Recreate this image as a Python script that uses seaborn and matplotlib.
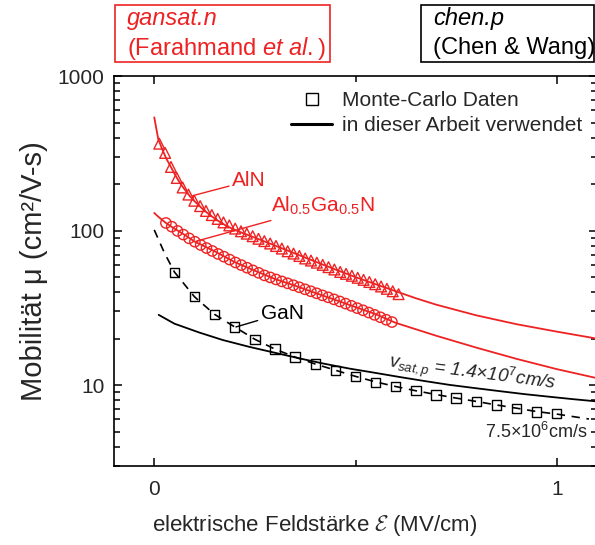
import numpy as np
import pandas as pd
import matplotlib
matplotlib.use("Agg")
import matplotlib.pyplot as plt
from matplotlib.patches import Rectangle
from matplotlib.lines import Line2D
from matplotlib.ticker import FixedLocator, NullFormatter, LogLocator
import seaborn as sns

# ---------------- data (field in MV/cm, mobility in cm^2/Vs) ----------------
# AlN Monte-Carlo points (triangles)
aln_E = [0.0125, 0.027, 0.0415, 0.056, 0.0705, 0.085, 0.0995, 0.114, 0.1285, 0.143,
         0.1575, 0.172, 0.1865, 0.201, 0.2155, 0.230, 0.2445, 0.259, 0.2735, 0.288,
         0.3025, 0.317, 0.3315, 0.346, 0.3605, 0.375, 0.3895, 0.404, 0.4185, 0.433,
         0.4475, 0.462, 0.4765, 0.491, 0.5055, 0.520, 0.5345, 0.549, 0.5635, 0.578,
         0.5925, 0.607]
aln_mu = [365, 318, 258, 219, 190, 171, 156, 144, 134, 126,
          119, 113, 108, 103, 99, 95.5, 92, 88.5, 85.5, 82.5,
          79.5, 76.5, 73.5, 71, 68.5, 66, 64, 62, 60, 58,
          56, 54, 52.5, 51, 49.5, 48, 46.5, 45, 43.5, 42,
          40.5, 38.8]

# AlN model curve (gansat.n)
aln_fit_E = [0.0, 0.01, 0.02, 0.03, 0.04, 0.05, 0.06, 0.07, 0.08, 0.09, 0.10, 0.12,
             0.14, 0.16, 0.18, 0.20, 0.25, 0.30, 0.35, 0.40, 0.45, 0.50, 0.55, 0.60,
             0.65, 0.70, 0.80, 0.90, 1.00, 1.10]
aln_fit_mu = [540, 390, 335, 292, 262, 234, 211, 193, 178, 165, 155, 138,
              125, 115, 107, 101, 90, 80, 71, 63, 56, 50, 45, 40.5,
              36.5, 33.2, 28.3, 24.8, 22.2, 20.0]

# Al0.5Ga0.5N Monte-Carlo points (circles)
algan_E = [0.029, 0.0434, 0.0578, 0.0722, 0.0866, 0.101, 0.1154, 0.1298, 0.1442, 0.1586,
           0.173, 0.1874, 0.2018, 0.2162, 0.2306, 0.245, 0.2594, 0.2738, 0.2882, 0.3026,
           0.317, 0.3314, 0.3458, 0.3602, 0.3746, 0.389, 0.4034, 0.4178, 0.4322, 0.4466,
           0.461, 0.4754, 0.4898, 0.5042, 0.5186, 0.533, 0.5474, 0.5618, 0.5762, 0.5906]
algan_mu = [112, 106, 99.5, 94.2, 89.1, 84.7, 80.7, 77.1, 73.8, 70.6,
            67.8, 64.9, 62.2, 59.8, 57.5, 55.3, 53.3, 51.3, 49.8, 48.3,
            46.9, 45.6, 44.3, 43.0, 41.7, 40.5, 39.3, 38.1, 37.0, 35.9,
            34.8, 33.7, 32.6, 31.5, 30.5, 29.5, 28.5, 27.5, 26.5, 25.6]

# Al0.5Ga0.5N model curve (gansat.n)
algan_fit_E = [0.0, 0.01, 0.02, 0.03, 0.05, 0.075, 0.10, 0.15, 0.20, 0.25, 0.30, 0.35,
               0.40, 0.45, 0.50, 0.55, 0.60, 0.70, 0.80, 0.90, 1.00, 1.10]
algan_fit_mu = [130, 123, 117, 111.5, 103, 94, 85, 73.5, 62.5, 55, 48.6, 44,
                39.5, 35.6, 32.0, 28.8, 25.3, 20.9, 17.5, 14.8, 12.7, 11.1]

# GaN Monte-Carlo points (squares)
gan_E = [0.05, 0.10, 0.15, 0.20, 0.25, 0.30, 0.35, 0.40, 0.45, 0.50,
         0.55, 0.60, 0.65, 0.70, 0.75, 0.80, 0.85, 0.90, 0.95, 1.00]
gan_mu = [53.8, 37.3, 28.7, 23.8, 19.8, 17.1, 15.2, 13.7, 12.5, 11.4,
          10.45, 9.8, 9.19, 8.65, 8.25, 7.85, 7.43, 7.08, 6.72, 6.55]

# GaN fit with v_sat = 7.5e6 cm/s (dashed)
gan_mc_fit_E = [0.0, 0.025, 0.05, 0.10, 0.15, 0.20, 0.25, 0.30, 0.35, 0.40, 0.45, 0.50,
                0.55, 0.60, 0.65, 0.70, 0.75, 0.80, 0.85, 0.90, 0.95, 1.00, 1.08]
gan_mc_fit_mu = [101, 72, 54, 37.3, 28.7, 23.8, 19.8, 17.1, 15.2, 13.7, 12.5, 11.4,
                 10.5, 9.8, 9.2, 8.7, 8.25, 7.85, 7.45, 7.1, 6.75, 6.5, 6.04]

# GaN holes, chen.p with v_sat,p = 1.4e7 cm/s (solid black)
chen_E = [0.011, 0.05, 0.112, 0.17, 0.236, 0.30, 0.361, 0.42, 0.485, 0.55, 0.609,
          0.67, 0.734, 0.80, 0.858, 0.92, 0.983, 1.04, 1.10]
chen_mu = [28.5, 25.0, 21.9, 19.6, 17.7, 16.2, 14.9, 13.8, 12.8, 12.0, 11.3,
           10.65, 10.04, 9.55, 9.15, 8.75, 8.41, 8.12, 7.85]

x_ticks = [0, 1]
x_ticklabels = ["0", "1"]
y_ticks = [10, 100, 1000]
y_ticklabels = ["10", "100", "1000"]

RED = "#ee2222"

# ---------------- style ----------------
sns.set_theme(style="ticks")
plt.rcParams["font.family"] = ["Liberation Sans", "DejaVu Sans"]
plt.rcParams["mathtext.fontset"] = "custom"
plt.rcParams["mathtext.rm"] = "Liberation Sans"
plt.rcParams["mathtext.it"] = "Liberation Sans:italic"
plt.rcParams["mathtext.cal"] = "cmsy10"
plt.rcParams["axes.linewidth"] = 1.2

fig = plt.figure(figsize=(5.95, 5.45), dpi=100)
ax = fig.add_axes([114 / 595, 1 - 466 / 545, 483 / 595, 390 / 545])
ax.set_facecolor("white")

# model curves
sns.lineplot(x=aln_fit_E, y=aln_fit_mu, ax=ax, color=RED, lw=1.3, sort=False, estimator=None)
sns.lineplot(x=algan_fit_E, y=algan_fit_mu, ax=ax, color=RED, lw=1.3, sort=False, estimator=None)
sns.lineplot(x=chen_E, y=chen_mu, ax=ax, color="black", lw=1.3, sort=False, estimator=None)
sns.lineplot(x=gan_mc_fit_E, y=gan_mc_fit_mu, ax=ax, color="black", lw=1.2, sort=False,
             estimator=None, linestyle=(0, (5, 4)))

# Monte-Carlo points (open markers)
def open_scatter(xv, yv, marker, size, color):
    n0 = len(ax.collections)
    sns.scatterplot(x=xv, y=yv, ax=ax, marker=marker, s=size, linewidth=1.0, zorder=4)
    for coll in ax.collections[n0:]:
        coll.set_facecolor("none")
        coll.set_edgecolor(color)

open_scatter(aln_E, aln_mu, "^", 60, RED)
open_scatter(algan_E, algan_mu, "o", 55, RED)
open_scatter(gan_E, gan_mu, "s", 45, "black")

# axes
ax.set_yscale("log")
ax.set_xlim(-0.1, 1.1)
ax.set_ylim(3, 1000)
ax.set_xticks(x_ticks)
ax.set_xticklabels(x_ticklabels)
ax.xaxis.set_minor_locator(FixedLocator([0.5]))
ax.set_yticks(y_ticks)
ax.set_yticklabels(y_ticklabels)
ax.yaxis.set_minor_locator(LogLocator(base=10, subs=np.arange(2, 10)))
ax.yaxis.set_minor_formatter(NullFormatter())
ax.tick_params(which="both", direction="in", top=True, right=True, color="black", width=1.1)
ax.tick_params(which="major", length=6, labelsize=15, pad=7)
ax.tick_params(which="minor", length=4)
ax.tick_params(axis="x", which="major", pad=10)
for s in ax.spines.values():
    s.set_color("black")

ax.set_xlabel(r"elektrische Feldstärke $\mathcal{E}$ (MV/cm)", fontsize=16)
ax.xaxis.set_label_coords((315 - 114) / 483, -0.12)
ax.set_ylabel("Mobilität μ (cm²/V-s)", fontsize=21, labelpad=7)

# legend
handles = [Line2D([], [], marker="s", ls="none", mfc="none", mec="black", ms=8, mew=1.0),
           Line2D([], [], color="black", lw=2.2)]
ax.legend(handles, ["Monte-Carlo Daten", "in dieser Arbeit verwendet"],
          loc="upper left", bbox_to_anchor=(0.366, 0.962), frameon=False,
          fontsize=15, handlelength=2.0, handletextpad=0.45, labelspacing=0.32,
          borderpad=0, borderaxespad=0)

# curve labels
lead = dict(arrowstyle="-", lw=1.0, shrinkA=0, shrinkB=0)
ax.annotate("AlN", xy=(0.095, 168), xytext=(0.194, 210), color=RED, fontsize=15,
            va="center", ha="left", arrowprops=dict(color=RED, **lead))
ax.annotate("Al$_{0.5}$Ga$_{0.5}$N", xy=(0.104, 85.3), xytext=(0.29, 144), color=RED,
            fontsize=15, va="center", ha="left", arrowprops=dict(color=RED, **lead))
ax.annotate("GaN", xy=(0.203, 23.8), xytext=(0.265, 29.2), color="black", fontsize=15,
            va="center", ha="left", arrowprops=dict(color="black", **lead))
ax.text(0.79, 12.0, r"$v_{sat,p}$ = 1.4×10$^{\mathit{7}}$cm/s", fontsize=13.5, style="italic",
        rotation=-7.5, ha="center", va="center", rotation_mode="anchor")
ax.text(0.948, 4.98, r"7.5×10$^{6}$cm/s", fontsize=13, ha="center", va="center")

# model name boxes above the plot
fig.add_artist(Rectangle((115 / 595, 1 - 62 / 545), 215 / 595, 57 / 545, fill=False,
                         edgecolor=RED, lw=1.2, transform=fig.transFigure))
fig.text(127 / 595, 1 - 19 / 545, "gansat.n", color=RED, fontsize=17, style="italic",
         va="center", ha="left")
fig.text(127 / 595, 1 - 48 / 545, r"(Farahmand $\mathit{et\ al.}$)", color=RED, fontsize=17,
         va="center", ha="left")
fig.add_artist(Rectangle((421 / 595, 1 - 62 / 545), 173 / 595, 57 / 545, fill=False,
                         edgecolor="black", lw=1.2, transform=fig.transFigure))
fig.text(433 / 595, 1 - 19 / 545, "chen.p", color="black", fontsize=17, style="italic",
         va="center", ha="left")
fig.text(433 / 595, 1 - 48 / 545, "(Chen & Wang)", color="black", fontsize=17,
         va="center", ha="left")

fig.savefig("out.png", dpi=100, facecolor="white")
